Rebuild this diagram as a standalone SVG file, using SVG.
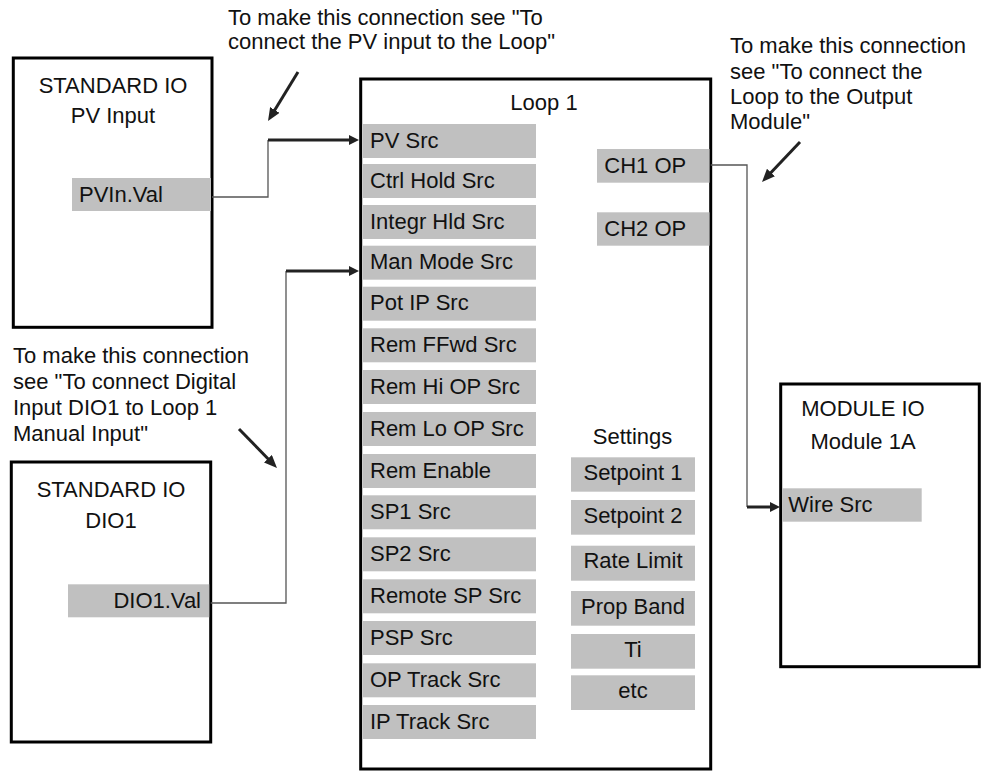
<svg xmlns="http://www.w3.org/2000/svg" width="992" height="771" viewBox="0 0 992 771">
<defs>
<style>
text{font-family:"Liberation Sans",Arial,Helvetica,sans-serif;font-size:22px;fill:#111}
.box{fill:#fff;stroke:#000;stroke-width:3}
.cell{fill:#c0c0c0}
.mid{text-anchor:middle}
.end{text-anchor:end}
.thin{fill:none;stroke:#555;stroke-width:1.3}
.thick{fill:none;stroke:#222;stroke-width:3}
.ptr{fill:none;stroke:#222;stroke-width:3}
</style>
<marker id="ah" markerUnits="userSpaceOnUse" markerWidth="10" markerHeight="10" refX="4" refY="5" orient="auto">
<path d="M0,0 L10,5 L0,10 z" fill="#222"/>
</marker>
<marker id="ph" markerUnits="userSpaceOnUse" markerWidth="13" markerHeight="11" refX="5" refY="5.5" orient="auto">
<path d="M0,0 L13,5.5 L0,11 z" fill="#222"/>
</marker>
</defs>

<g id="annotations">
<text x="228" y="25">To make this connection see "To</text>
<text x="228" y="49">connect the PV input to the Loop"</text>
<text x="730" y="53">To make this connection</text>
<text x="730" y="79">see "To connect the</text>
<text x="730" y="104">Loop to the Output</text>
<text x="730" y="129">Module"</text>
<text x="13" y="363">To make this connection</text>
<text x="13" y="389">see "To connect Digital</text>
<text x="13" y="415">Input DIO1 to Loop 1</text>
<text x="13" y="441">Manual Input"</text>
<line class="ptr" x1="298" y1="72" x2="272.2" y2="114.2" marker-end="url(#ph)"/>
<line class="ptr" x1="800" y1="142" x2="767.5" y2="176.2" marker-end="url(#ph)"/>
<line class="ptr" x1="239" y1="429" x2="271.4" y2="462.3" marker-end="url(#ph)"/>
</g>

<g id="pv-input">
<rect class="box" x="13.3" y="58" width="198.7" height="269.3"/>
<text class="mid" x="113" y="93">STANDARD IO</text>
<text class="mid" x="113" y="123">PV Input</text>
<rect class="cell" x="72" y="178" width="139" height="33"/>
<text x="79" y="201.5">PVIn.Val</text>
</g>

<g id="dio1">
<rect class="box" x="11.3" y="462" width="199.4" height="280"/>
<text class="mid" x="111" y="497">STANDARD IO</text>
<text class="mid" x="111" y="527.5">DIO1</text>
<rect class="cell" x="68" y="584.3" width="141.2" height="33"/>
<text class="end" x="201" y="607.7">DIO1.Val</text>
</g>

<g id="loop1">
<rect class="box" x="360.7" y="79" width="350" height="690"/>
<text class="mid" x="544" y="110">Loop 1</text>
<rect class="cell" x="363" y="124" width="173" height="34"/><text x="370" y="147.5">PV Src</text>
<rect class="cell" x="363" y="164" width="173" height="34"/><text x="370" y="187.5">Ctrl Hold Src</text>
<rect class="cell" x="363" y="205" width="173" height="34"/><text x="370" y="228.5">Integr Hld Src</text>
<rect class="cell" x="363" y="245.7" width="173" height="34"/><text x="370" y="269.2">Man Mode Src</text>
<rect class="cell" x="363" y="286.7" width="173" height="34"/><text x="370" y="310.2">Pot IP Src</text>
<rect class="cell" x="363" y="328.3" width="173" height="34"/><text x="370" y="351.8">Rem FFwd Src</text>
<rect class="cell" x="363" y="370" width="173" height="34"/><text x="370" y="393.5">Rem Hi OP Src</text>
<rect class="cell" x="363" y="412" width="173" height="34"/><text x="370" y="435.5">Rem Lo OP Src</text>
<rect class="cell" x="363" y="454" width="173" height="34"/><text x="370" y="477.5">Rem Enable</text>
<rect class="cell" x="363" y="495.3" width="173" height="34"/><text x="370" y="518.8">SP1 Src</text>
<rect class="cell" x="363" y="537.3" width="173" height="34"/><text x="370" y="560.8">SP2 Src</text>
<rect class="cell" x="363" y="579.3" width="173" height="34"/><text x="370" y="602.8">Remote SP Src</text>
<rect class="cell" x="363" y="621" width="173" height="34"/><text x="370" y="644.5">PSP Src</text>
<rect class="cell" x="363" y="663.3" width="173" height="34"/><text x="370" y="686.8">OP Track Src</text>
<rect class="cell" x="363" y="705" width="173" height="34"/><text x="370" y="728.5">IP Track Src</text>
<rect class="cell" x="597" y="149" width="112.5" height="33.7"/><text x="604.3" y="173">CH1 OP</text>
<rect class="cell" x="597" y="212.3" width="112.5" height="33.4"/><text x="604.3" y="236.3">CH2 OP</text>
<text class="mid" x="632.5" y="444.3">Settings</text>
<rect class="cell" x="571" y="457.3" width="124" height="34.4"/><text class="mid" x="633" y="480">Setpoint 1</text>
<rect class="cell" x="571" y="500" width="124" height="34.7"/><text class="mid" x="633" y="522.7">Setpoint 2</text>
<rect class="cell" x="571" y="545.7" width="124" height="35"/><text class="mid" x="633" y="568.4">Rate Limit</text>
<rect class="cell" x="571" y="591" width="124" height="34.7"/><text class="mid" x="633" y="613.7">Prop Band</text>
<rect class="cell" x="571" y="634" width="124" height="34.7"/><text class="mid" x="633" y="656.7">Ti</text>
<rect class="cell" x="571" y="675.3" width="124" height="34.7"/><text class="mid" x="633" y="698">etc</text>
</g>

<g id="module-io">
<rect class="box" x="780.7" y="384" width="198.6" height="282.7"/>
<text class="mid" x="863" y="416">MODULE IO</text>
<text class="mid" x="863" y="449.3">Module 1A</text>
<rect class="cell" x="782.2" y="488.3" width="139.5" height="33.4"/>
<text x="788.3" y="511.7">Wire Src</text>
</g>

<g id="connectors">
<path class="thin" d="M212,197 H268 V140"/>
<path class="thick" d="M268,140 H353" marker-end="url(#ah)"/>
<path class="thin" d="M210.7,603 H286 V271"/>
<path class="thick" d="M286,271 H353" marker-end="url(#ah)"/>
<path class="thin" d="M710.7,165 H747 V507"/>
<path class="thick" d="M747,507 H774" marker-end="url(#ah)"/>
</g>
</svg>
